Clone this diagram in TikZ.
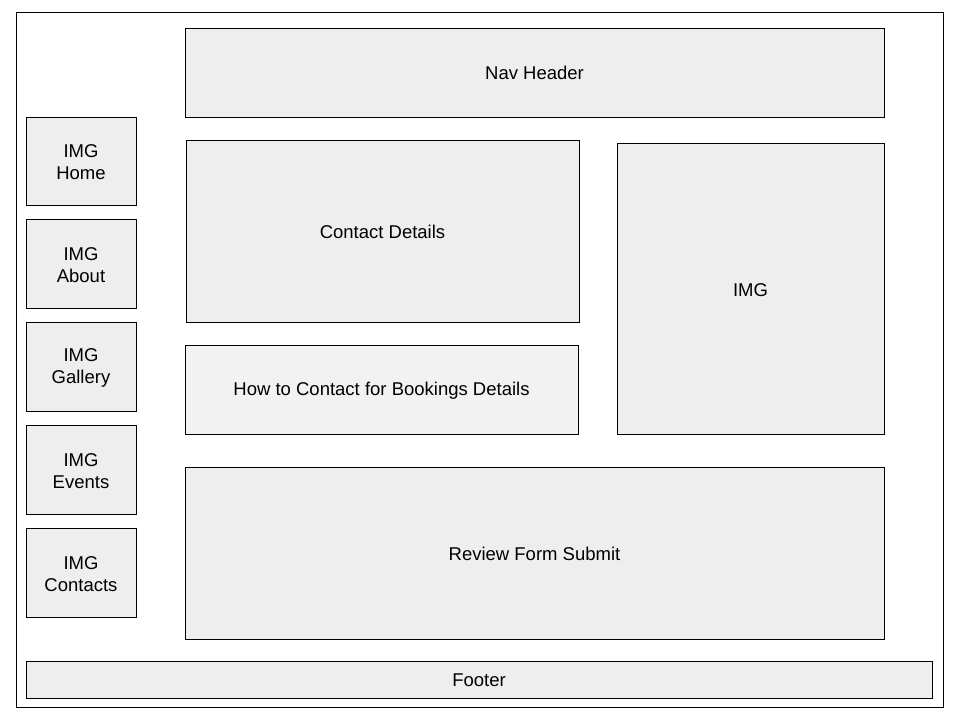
\documentclass[tikz,border=0pt]{standalone}
\usepackage{fontspec}
\setmainfont{Liberation Sans}
\begin{document}
\begin{tikzpicture}[x=1pt,y=-1pt,
  box/.style={draw=black,line width=1pt,fill=boxgray},
  lbl/.style={font=\fontsize{18.5}{22}\selectfont,align=center,text=black}]
\definecolor{boxgray}{HTML}{EEEEEE}
\definecolor{lightgray}{HTML}{F2F2F2}
\useasboundingbox (0,0) rectangle (960,720);
\draw[line width=1pt] (16,12) rectangle (943,707);
\draw[box] (185,28) rectangle (884,117);
\node[lbl] (nav) at (534.5,73) {Nav Header};
\draw[box] (186,140) rectangle (579,322);
\node[lbl] (cd) at (382.5,232) {Contact Details};
\draw[box,fill=lightgray] (185,345) rectangle (578,434);
\node[lbl] (how) at (381.5,391) {How to Contact for Bookings Details};
\draw[box] (617,143) rectangle (884,434);
\node[lbl] (img) at (750.5,290) {IMG};
\draw[box] (185,467) rectangle (884,639);
\node[lbl] (rev) at (534.5,554) {Review Form Submit};
\draw[box] (26,661) rectangle (932,698);
\node[lbl] (foot) at (479,680.5) {Footer};
\draw[box] (26,117) rectangle (136,205);
\node[lbl] (home) at (81,162) {IMG\\Home};
\draw[box] (26,219) rectangle (136,308);
\node[lbl] (about) at (81,265) {IMG\\About};
\draw[box] (26,322) rectangle (136,411);
\node[lbl] (gal) at (81,368) {IMG\\Gallery};
\draw[box] (26,425) rectangle (136,514);
\node[lbl] (ev) at (81,471) {IMG\\Events};
\draw[box] (26,528) rectangle (136,617);
\node[lbl] (con) at (81,574) {IMG\\Contacts};
\end{tikzpicture}
\end{document}
